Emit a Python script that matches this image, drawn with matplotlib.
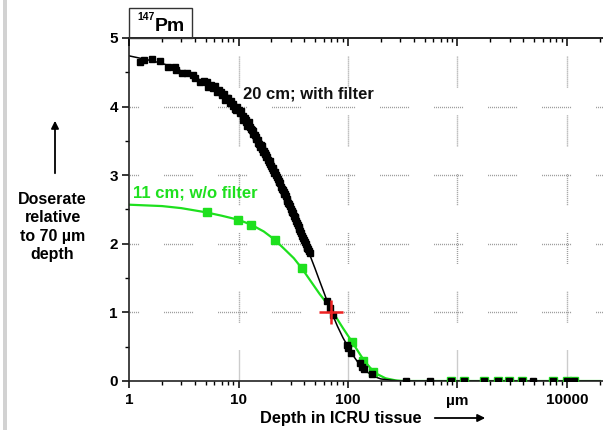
import matplotlib
matplotlib.use("Agg")
import matplotlib.pyplot as plt
from matplotlib.patches import Rectangle
from matplotlib.ticker import FixedLocator, FixedFormatter, LogLocator, NullFormatter, MultipleLocator

plt.rcParams['font.family'] = ['Liberation Sans', 'DejaVu Sans']
plt.rcParams['font.weight'] = 'bold'

# ---- data -------------------------------------------------------------
# 20 cm source distance, with filter: measured points
black_x = [1.26, 1.38, 1.61, 1.92, 2.26, 2.63, 2.68, 3.03, 3.36, 3.87, 4.0, 4.45,
           4.8, 5.12, 5.3, 5.6, 5.9, 6.1, 6.3, 6.6, 6.9, 7.0, 7.3, 7.5, 7.8, 8.0,
           8.3, 8.6, 8.9, 9.0, 9.3, 9.5, 9.7, 10.0, 10.3, 10.6, 10.9, 11.0, 11.4,
           11.6, 11.8, 12.0, 12.3, 12.5, 12.7, 13.0, 13.2, 13.5, 13.7, 14.1, 14.4,
           14.6, 15.0, 15.2, 15.5, 15.8, 16.0, 16.3, 16.5, 16.8, 17.0, 17.3, 17.5,
           17.8, 18.0, 18.3, 18.6, 18.9, 19.2, 19.5, 19.8, 20.1, 20.5, 20.8, 21.2,
           21.6, 22.0, 22.4, 22.8, 23.2, 23.6, 24.0, 24.5, 24.9, 25.3, 25.8, 26.2,
           26.6, 27.0, 27.5, 28.0, 28.5, 29.0, 29.5, 30.0, 30.5, 31.0, 31.5, 32.0,
           32.5, 33.0, 33.6, 34.2, 34.8, 35.4, 36.0, 36.6, 37.3, 38.0, 38.7, 39.5,
           40.2, 41.0, 41.8, 42.5, 43.3, 44.0, 44.8,
           64.0, 68.5, 72.5, 97.6, 100.6, 105.5, 128.0, 134.0, 140.0, 164.0,
           339, 561, 874, 1154, 1758, 2328, 2953, 3908, 4920, 7500, 9930, 11590]
black_y = [4.65, 4.68, 4.69, 4.66, 4.57, 4.58, 4.53, 4.49, 4.49, 4.46, 4.41, 4.36,
           4.38, 4.36, 4.29, 4.31, 4.27, 4.30, 4.22, 4.24, 4.21, 4.17, 4.19, 4.10,
           4.13, 4.12, 4.05, 4.08, 4.04, 4.01, 3.97, 3.95, 3.99, 3.95, 3.90, 3.93,
           3.86, 3.80, 3.84, 3.81, 3.78, 3.72, 3.74, 3.77, 3.70, 3.68, 3.66, 3.64,
           3.60, 3.58, 3.56, 3.53, 3.51, 3.47, 3.45, 3.41, 3.44, 3.42, 3.38, 3.34,
           3.36, 3.33, 3.31, 3.26, 3.29, 3.27, 3.22, 3.19, 3.20, 3.17, 3.14, 3.11,
           3.10, 3.07, 3.03, 3.05, 3.01, 2.97, 2.94, 2.92, 2.90, 2.88, 2.83, 2.80,
           2.79, 2.76, 2.73, 2.72, 2.69, 2.66, 2.62, 2.60, 2.58, 2.55, 2.51, 2.48,
           2.47, 2.45, 2.41, 2.39, 2.37, 2.33, 2.30, 2.28, 2.25, 2.22, 2.19, 2.16,
           2.12, 2.09, 2.06, 2.03, 2.00, 1.96, 1.94, 1.92, 1.89, 1.86,
           1.16, 1.06, 0.96, 0.52, 0.48, 0.41, 0.26, 0.20, 0.17, 0.10,
           0, 0, 0, 0, 0, 0, 0, 0, 0, 0, 0, 0]

# 20 cm, with filter: fitted curve
black_fit_x = [1, 1.5, 2, 2.5, 3, 4, 5, 6, 7, 8, 9, 10, 12, 14, 16, 18, 20, 22,
               25, 28, 30, 33, 36, 40, 45, 50, 55, 60, 65, 70, 80, 90, 100, 115,
               130, 150, 170, 200, 250, 300, 20000]
black_fit_y = [4.74, 4.68, 4.63, 4.58, 4.52, 4.43, 4.34, 4.26, 4.17, 4.09, 4.01,
               3.93, 3.76, 3.59, 3.43, 3.28, 3.13, 3.00, 2.82, 2.63, 2.52, 2.36,
               2.21, 2.03, 1.83, 1.64, 1.46, 1.30, 1.15, 1.02, 0.80, 0.63, 0.50,
               0.34, 0.22, 0.13, 0.07, 0.03, 0.01, 0.0, 0.0]

# 11 cm source distance, without filter: measured points
green_x = [5.19, 9.96, 13.0, 21.4, 38.3, 108, 137, 170,
           874, 1154, 1758, 2328, 2953, 3908, 7500, 9930, 11590]
green_y = [2.46, 2.35, 2.28, 2.055, 1.64, 0.57, 0.29, 0.13,
           0, 0, 0, 0, 0, 0, 0, 0, 0]

# 11 cm, without filter: fitted curve
green_fit_x = [1, 2, 3, 5, 7, 10, 13, 17, 21, 26, 32, 38, 45, 55, 65, 75, 90,
               108, 125, 140, 160, 185, 220, 270, 320, 20000]
green_fit_y = [2.57, 2.55, 2.52, 2.46, 2.41, 2.35, 2.28, 2.18, 2.07, 1.93, 1.79,
               1.64, 1.47, 1.27, 1.12, 0.97, 0.77, 0.58, 0.42, 0.30, 0.19, 0.10,
               0.04, 0.01, 0.0, 0.0]

# reference point: 70 µm depth, relative dose rate 1
ref_x = [70]
ref_y = [1.0]

x_tick_pos = [1, 10, 100, 1000, 10000]
x_tick_labels = ["1", "10", "100", "µm", "10000"]
y_tick_pos = [0, 1, 2, 3, 4, 5]

GREEN = '#1ee01e'

# ---- figure -------------------------------------------------------------
W, H = 603, 430
fig = plt.figure(figsize=(W / 100, H / 100), dpi=100)


def fx(px):
    return px / W


def fy(py):
    return 1 - py / H


ax_left, ax_right, ax_top, ax_bottom = 129, 603, 38, 381
ax = fig.add_axes([fx(ax_left), fy(ax_bottom), (ax_right - ax_left) / W,
                   (ax_bottom - ax_top) / H])
ax.set_xscale('log')
decade_px = 109.5
xmax = 10 ** ((ax_right - ax_left) / decade_px)
ax.set_xlim(1, xmax)
ax.set_ylim(0, 5)

# broken dotted grid
dot = 0.72
h_dash = [dot, dot] * 15
h_dash[-1] = 18.0
v_dash = [dot, dot] * 16
v_dash[-1] = 20.0
for yv in [1, 2, 3, 4]:
    ax.axhline(yv, color='#9a9a9a', lw=1.0, zorder=0.5,
               linestyle=(14.0, tuple(h_dash)))
for xv in [10, 100, 1000, 10000]:
    ax.axvline(xv, color='#9a9a9a', lw=1.0, zorder=0.5,
               linestyle=(0.0, tuple(v_dash)))

# curves and points
ax.plot(green_fit_x, green_fit_y, color=GREEN, lw=1.6, zorder=2)
ax.plot(black_fit_x, black_fit_y, color='black', lw=1.1, zorder=2.5)
ax.plot(green_x, green_y, ls='none', marker='s', ms=5.4, mfc=GREEN, mec=GREEN,
        zorder=3)
ax.plot(black_x, black_y, ls='none', marker='s', ms=4.6, mfc='black',
        mec='black', zorder=3.5)
ax.plot(ref_x, ref_y, ls='none', marker='+', ms=17, mew=1.8, color='#ee2222',
        zorder=4)

ax.text(11.0, 4.18, "20 cm; with filter", fontsize=12, fontweight='bold',
        color='#111111', ha='left', va='center', zorder=5)
ax.text(1.09, 2.74, "11 cm; w/o filter", fontsize=12, fontweight='bold',
        color=GREEN, ha='left', va='center', zorder=5)

# spines and ticks
ax.spines['right'].set_visible(False)
for s in ['left', 'bottom', 'top']:
    ax.spines[s].set_linewidth(1.2)
    ax.spines[s].set_color('#222222')

ax.xaxis.set_major_locator(FixedLocator(x_tick_pos))
ax.xaxis.set_major_formatter(FixedFormatter(x_tick_labels))
ax.xaxis.set_minor_locator(LogLocator(base=10, subs=range(2, 10), numticks=20))
ax.xaxis.set_minor_formatter(NullFormatter())
ax.yaxis.set_major_locator(FixedLocator(y_tick_pos))
ax.yaxis.set_minor_locator(MultipleLocator(0.5))

ax.tick_params(axis='x', which='major', direction='out', length=5, width=1.1,
               pad=4, labelsize=11, top=False)
ax.tick_params(axis='x', which='minor', direction='out', length=3, width=1.0,
               top=False)
ax.tick_params(axis='y', which='major', direction='out', length=5, width=1.1,
               pad=3, labelsize=11, right=False)
ax.tick_params(axis='y', which='minor', direction='out', length=3, width=1.0,
               right=False)
for lab in ax.get_xticklabels() + ax.get_yticklabels():
    lab.set_fontweight('bold')

# inward ticks along the top edge
axt = ax.twiny()
axt.set_xscale('log')
axt.set_xlim(ax.get_xlim())
axt.xaxis.set_major_locator(FixedLocator(x_tick_pos))
axt.xaxis.set_minor_locator(LogLocator(base=10, subs=range(2, 10), numticks=20))
axt.xaxis.set_major_formatter(NullFormatter())
axt.xaxis.set_minor_formatter(NullFormatter())
axt.tick_params(axis='x', which='major', direction='in', length=6, width=1.1)
axt.tick_params(axis='x', which='minor', direction='in', length=3, width=1.0)
for s in ['right', 'left', 'bottom']:
    axt.spines[s].set_visible(False)
axt.spines['top'].set_linewidth(1.2)
axt.spines['top'].set_color('#222222')

# nuclide label box
fig.patches.append(Rectangle((fx(129), fy(38)), (192 - 129) / W, (38 - 8) / H,
                             transform=fig.transFigure, fill=False,
                             edgecolor='#333333', lw=1.0))
fig.text(fx(137), fy(17), "147", fontsize=7.5, fontweight='bold',
         ha='left', va='center')
fig.text(fx(155), fy(31), "Pm", fontsize=14, fontweight='bold',
         ha='left', va='baseline')

# axis titles with arrows
fig.text(fx(52.5), fy(227), "Doserate\nrelative\nto 70 µm\ndepth",
         fontsize=11.5, fontweight='bold', ha='center', va='center',
         linespacing=1.25)
ax.annotate("", xy=(fx(55), fy(118)), xytext=(fx(55), fy(176)),
            xycoords='figure fraction', textcoords='figure fraction',
            arrowprops=dict(arrowstyle='-|>', color='black', lw=1.3,
                            mutation_scale=11), annotation_clip=False)

fig.text(fx(341), fy(418), "Depth in ICRU tissue", fontsize=11.8,
         fontweight='bold', ha='center', va='center')
ax.annotate("", xy=(fx(488), fy(418)), xytext=(fx(432), fy(418)),
            xycoords='figure fraction', textcoords='figure fraction',
            arrowprops=dict(arrowstyle='-|>', color='black', lw=1.3,
                            mutation_scale=11), annotation_clip=False)

# page edge strip on the left
fig.patches.append(Rectangle((fx(3), 0), 4 / W, 1, transform=fig.transFigure,
                             facecolor='#d2d2d2', edgecolor='none'))

fig.savefig("out.png", dpi=100)
